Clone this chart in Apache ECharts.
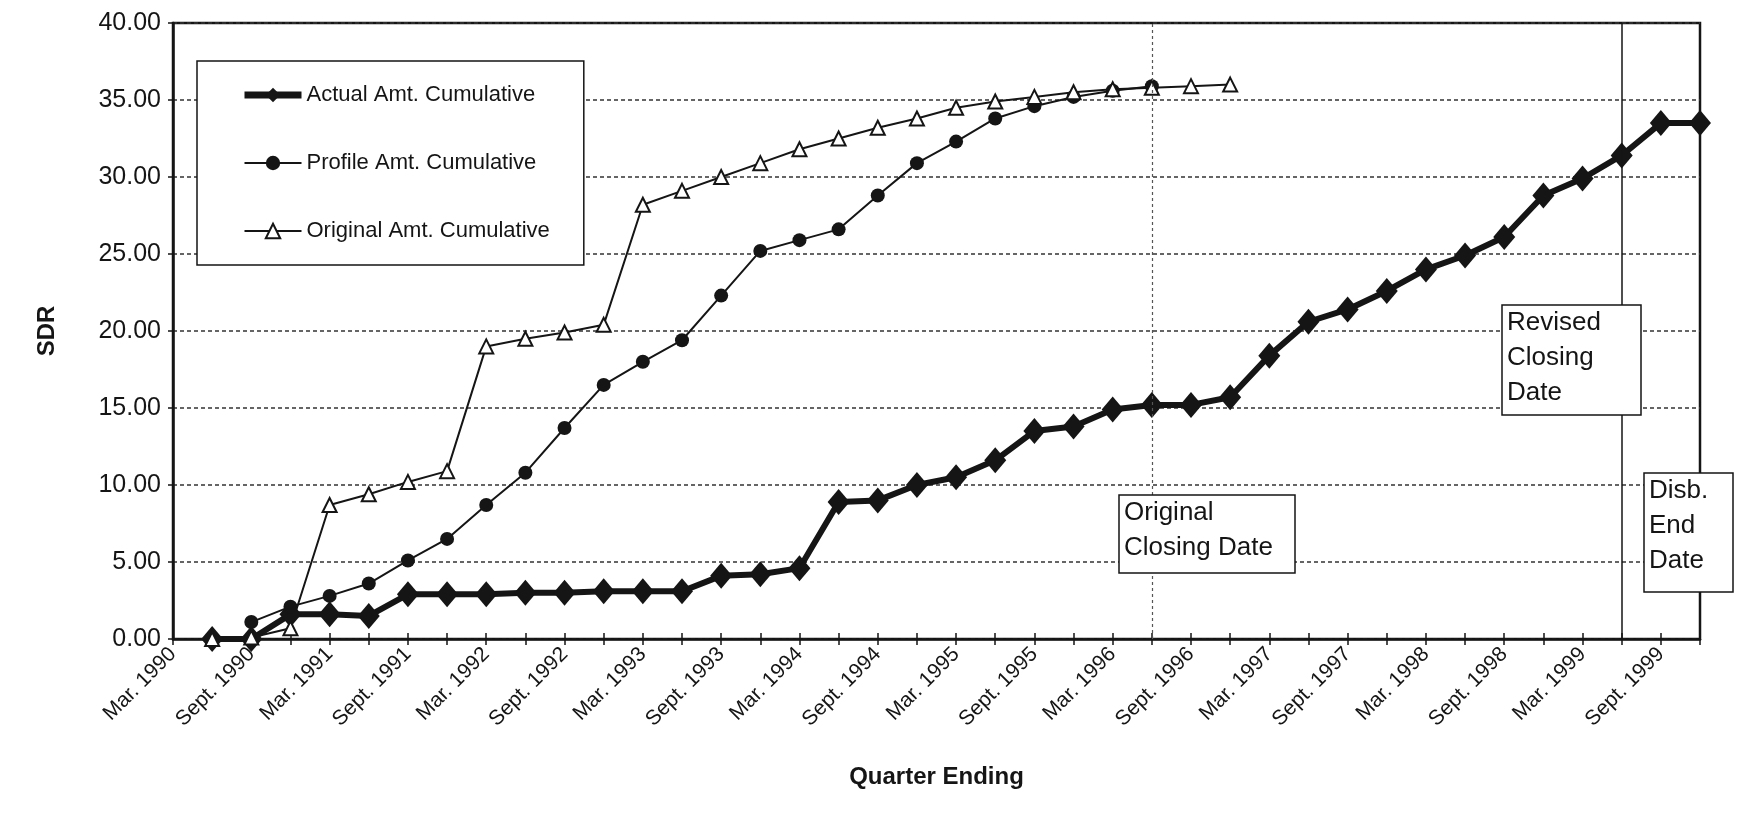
<!DOCTYPE html>
<html>
<head>
<meta charset="utf-8">
<script src="https://cdn.jsdelivr.net/npm/echarts@6/dist/echarts.min.js"></script>
<style>
  html, body { margin: 0; padding: 0; background: #fff; }
  #chart { width: 1737px; height: 823px; }
</style>
</head>
<body>
<div id="chart"></div>
<script>
const FONT = '"Liberation Sans", Arial, sans-serif';

// quarter ending, Mar. 1990 .. Dec. 1999
const quarters = [
  'Mar. 1990', 'June 1990', 'Sept. 1990', 'Dec. 1990',
  'Mar. 1991', 'June 1991', 'Sept. 1991', 'Dec. 1991',
  'Mar. 1992', 'June 1992', 'Sept. 1992', 'Dec. 1992',
  'Mar. 1993', 'June 1993', 'Sept. 1993', 'Dec. 1993',
  'Mar. 1994', 'June 1994', 'Sept. 1994', 'Dec. 1994',
  'Mar. 1995', 'June 1995', 'Sept. 1995', 'Dec. 1995',
  'Mar. 1996', 'June 1996', 'Sept. 1996', 'Dec. 1996',
  'Mar. 1997', 'June 1997', 'Sept. 1997', 'Dec. 1997',
  'Mar. 1998', 'June 1998', 'Sept. 1998', 'Dec. 1998',
  'Mar. 1999', 'June 1999', 'Sept. 1999', 'Dec. 1999'
];

const actualAmt = [
  null, 0, 0, 1.6, 1.6, 1.5, 2.9, 2.9, 2.9, 3.0,
  3.0, 3.1, 3.1, 3.1, 4.1, 4.2, 4.6, 8.9, 9.0, 10.0,
  10.5, 11.6, 13.5, 13.8, 14.9, 15.2, 15.2, 15.7, 18.4, 20.6,
  21.4, 22.6, 24.0, 24.9, 26.1, 28.8, 29.9, 31.4, 33.5, 33.5
];

const profileAmt = [
  null, null, 1.1, 2.1, 2.8, 3.6, 5.1, 6.5, 8.7, 10.8,
  13.7, 16.5, 18.0, 19.4, 22.3, 25.2, 25.9, 26.6, 28.8, 30.9,
  32.3, 33.8, 34.6, 35.2, 35.6, 35.9
];

const originalAmt = [
  null, 0, 0.1, 0.7, 8.7, 9.4, 10.2, 10.9, 19.0, 19.5,
  19.9, 20.4, 28.2, 29.1, 30.0, 30.9, 31.8, 32.5, 33.2, 33.8,
  34.5, 34.9, 35.2, 35.5, 35.7, 35.8, 35.9, 36.0
];

// original closing date, revised closing date
const closingQuarters = ['June 1996', 'June 1999'];

const ink = '#151515';

const noteBox = (x, y, w, h, text) => [
  {
    type: 'rect', z: 100,
    shape: { x: x, y: y, width: w, height: h },
    style: { fill: '#fff', stroke: ink, lineWidth: 1.5 }
  },
  {
    type: 'text', z: 101, x: x + 5, y: y,
    style: { text: text, font: '26px ' + FONT, fill: ink, lineHeight: 35, align: 'left', verticalAlign: 'top' }
  }
];

const chart = echarts.init(document.getElementById('chart'));
chart.setOption({
  animation: false,
  backgroundColor: '#fff',
  grid: {
    left: 173, right: 37, top: 23, bottom: 184,
    show: true, borderColor: ink, borderWidth: 2.5
  },
  legend: {
    left: 197, top: 61, orient: 'vertical',
    padding: [23, 34, 23, 44],
    itemGap: 46, itemWidth: 57, itemHeight: 18,
    borderColor: ink, borderWidth: 1.5, backgroundColor: '#fff',
    textStyle: { fontSize: 22, color: ink, fontFamily: FONT },
    data: [
      { name: 'Actual Amt. Cumulative', lineStyle: { width: 7 } },
      { name: 'Profile Amt. Cumulative' },
      { name: 'Original Amt. Cumulative' }
    ]
  },
  xAxis: [{
    type: 'category',
    data: quarters,
    boundaryGap: false,
    name: 'Quarter Ending',
    nameLocation: 'middle',
    nameGap: 126,
    nameTextStyle: { fontSize: 24, fontWeight: 'bold', color: ink, fontFamily: FONT },
    axisLine: { lineStyle: { color: ink, width: 2.5 } },
    axisTick: { show: true, interval: 0, length: 6, lineStyle: { color: ink, width: 1.5 } },
    axisLabel: { interval: 1, rotate: 45, margin: 12, fontSize: 21, color: ink, fontFamily: FONT },
    splitLine: { show: false }
  }, {
    type: 'category',
    data: quarters,
    boundaryGap: false,
    position: 'bottom',
    axisLine: { show: false },
    axisTick: { show: true, inside: true, interval: 0, length: 6, lineStyle: { color: ink, width: 1.5 } },
    axisLabel: { show: false },
    splitLine: { show: false }
  }],
  yAxis: {
    type: 'value',
    min: 0, max: 40, interval: 5,
    name: 'SDR',
    nameLocation: 'middle',
    nameGap: 114,
    nameRotate: 90,
    nameTextStyle: { fontSize: 24, fontWeight: 'bold', color: ink, fontFamily: FONT },
    axisLine: { show: true, lineStyle: { color: ink, width: 2.5 } },
    axisTick: { show: true, length: 5, lineStyle: { color: ink, width: 1.5 } },
    axisLabel: { fontSize: 25, color: ink, fontFamily: FONT, margin: 12, formatter: v => v.toFixed(2) },
    splitLine: { lineStyle: { color: '#333', width: 1.5, type: [4, 3] } }
  },
  series: [{
    name: 'Actual Amt. Cumulative',
    type: 'line',
    data: actualAmt,
    showAllSymbol: true,
    symbol: 'diamond',
    symbolSize: [22, 26],
    itemStyle: { color: ink },
    lineStyle: { color: ink, width: 6 },
    markLine: {
      silent: true,
      symbol: ['none', 'none'],
      label: { show: false },
      data: [
        { xAxis: closingQuarters[0], lineStyle: { color: '#555', width: 1.2, type: [3, 3] } },
        { xAxis: closingQuarters[1], lineStyle: { color: ink, width: 1.5, type: 'solid' } }
      ]
    }
  }, {
    name: 'Profile Amt. Cumulative',
    type: 'line',
    data: profileAmt,
    showAllSymbol: true,
    symbol: 'circle',
    symbolSize: 14,
    itemStyle: { color: ink },
    lineStyle: { color: ink, width: 2 }
  }, {
    name: 'Original Amt. Cumulative',
    type: 'line',
    data: originalAmt,
    showAllSymbol: true,
    symbol: 'triangle',
    symbolSize: 14,
    itemStyle: { color: '#fff', borderColor: ink, borderWidth: 2 },
    lineStyle: { color: ink, width: 2 }
  }],
  graphic: [].concat(
    noteBox(1119, 495, 176, 78, 'Original\nClosing Date'),
    noteBox(1502, 305, 139, 110, 'Revised\nClosing\nDate'),
    noteBox(1644, 473, 89, 119, 'Disb.\nEnd\nDate')
  )
});
</script>
</body>
</html>
